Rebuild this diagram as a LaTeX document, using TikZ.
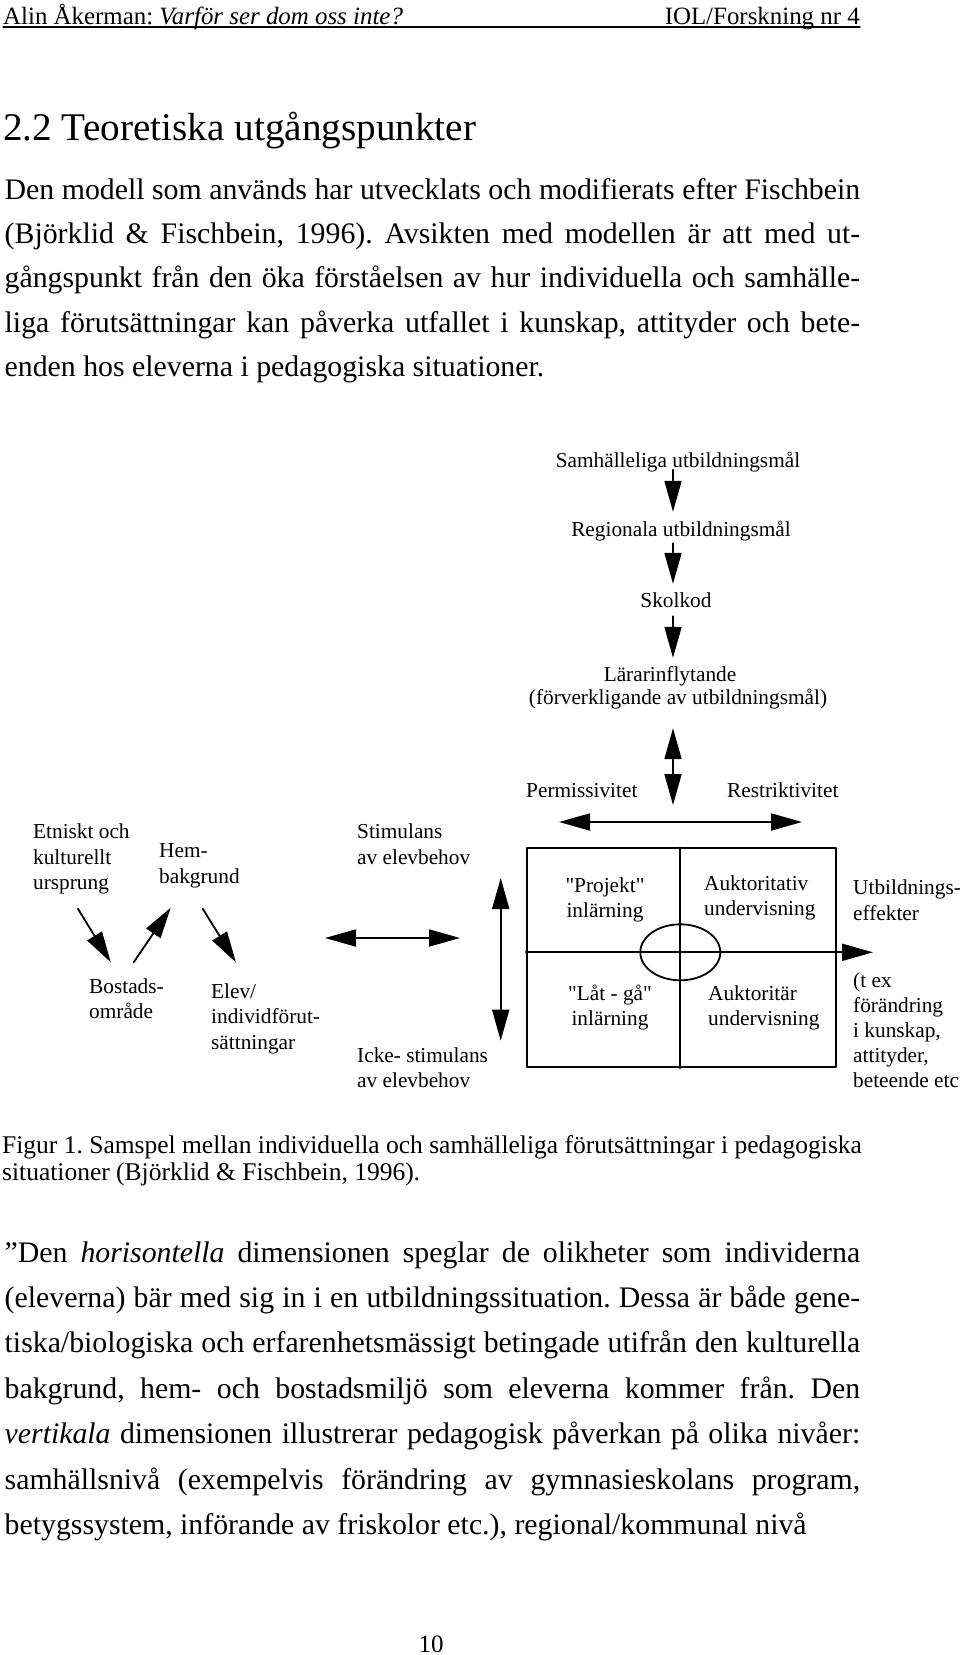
\documentclass[tikz,border=0pt]{standalone}
\usepackage{fontspec}
\setmainfont{Liberation Serif}
\newfontfamily\rakfont{Liberation Serif}
\usetikzlibrary{arrows.meta,shapes.geometric}
\newcommand{\brodfont}{\fontsize{29.8}{44.4}\selectfont}
\newcommand{\figfont}{\rakfont\fontsize{21.3}{25.5}\selectfont}
\frenchspacing

\begin{document}
\begin{tikzpicture}[x=1pt,y=-1pt,line cap=round,line join=round,
		>={Triangle[length=31pt,width=17pt]},
		txt/.style={inner sep=0pt,font=\figfont},
		mal/.style={txt,anchor=base,text height=14.5pt,text depth=4.5pt},
		pil/.style={->,line width=1.8pt},
		dpil/.style={<->,line width=1.8pt}]
		\useasboundingbox (0,0) rectangle (960,1655);
		% sidhuvud och rubrik
		\node[anchor=base west,inner sep=0pt,font=\fontsize{24.9}{28}\selectfont] (huvud) at (3,24) {Alin Åkerman: \textit{Varför ser dom oss inte?}};
		\node[anchor=base east,inner sep=0pt,font=\fontsize{24.9}{28}\selectfont] (serie) at (860,24) {IOL/Forskning nr 4};
		\draw[line width=1.3pt] (3,27) -- (860,27);
		\node[anchor=base west,inner sep=0pt,font=\fontsize{39.2}{44}\selectfont] (rubrik) at (3,140) {2.2 Teoretiska utgångspunkter};
		\node[anchor=base west,inner sep=0pt,text width=855.5pt,align=justify,font=\brodfont] (stycke) at (4.5,199) {Den modell som används har utvecklats och modifierats efter Fischbein\linebreak
			(Björklid \& Fischbein, 1996). Avsikten med modellen är att med ut-\linebreak
			gångspunkt från den öka förståelsen av hur individuella och samhälle-\linebreak
			liga förutsättningar kan påverka utfallet i kunskap, attityder och bete-\linebreak
			enden hos eleverna i pedagogiska situationer.};
		% vertikala dimensionen
		\coordinate (axel) at (673,0);
		\node[mal] (samh) at (678,467) {Samhälleliga utbildningsmål};
		\node[mal] (regio) at (681,536) {Regionala utbildningsmål};
		\node[mal] (skol) at (676,607) {Skolkod};
		\node[mal] (larar) at (670,681) {Lärarinflytande};
		\node[mal] (forv) at (678,704) {(förverkligande av utbildningsmål)};
		\draw[pil,shorten <=-2pt,shorten >=9.5pt] (samh.south -| axel) -- (regio.north -| axel);
		\draw[pil,shorten <=2.5pt,shorten >=8.5pt] (regio.south -| axel) -- (skol.north -| axel);
		\draw[pil,shorten <=4.5pt,shorten >=8.5pt] (skol.south -| axel) -- (larar.north -| axel);
		\node[txt,anchor=base west] (perm) at (526,797) {Permissivitet};
		\node[txt,anchor=base west] (restr) at (727,797) {Restriktivitet};
		\coordinate (pv) at (559,822);
		\coordinate (ph) at (802,822);
		\draw[dpil] (pv) -- (ph);
		\draw[dpil,shorten <=19.5pt,shorten >=17pt] (forv.south -| axel) -- (pv -| axel);
		% fyrfaltet
		\coordinate (mitt) at (680.3,952.3);
		\node[draw,line width=1.8pt,inner sep=0pt,minimum width=309.3pt,minimum height=219pt] (ruta) at (681.35,957.8) {};
		\draw[line width=1.8pt] (ruta.north -| mitt) -- (ruta.south -| mitt);
		\draw[line width=1.8pt] (ruta.west |- mitt) -- (ruta.east |- mitt);
		\node[draw,ellipse,line width=1.8pt,inner sep=0pt,minimum width=80pt,minimum height=56pt] (oval) at (mitt) {};
		\node[txt,align=center,anchor=base] (proj) at (605,917.5) {"Projekt"\\inlärning};
		\node[txt,align=left,anchor=base west] (aukt) at (704,915.5) {Auktoritativ\\undervisning};
		\node[txt,align=center,anchor=base] (latga) at (610,1025.5) {"Låt - gå"\\inlärning};
		\node[txt,align=left,anchor=base west] (auktar) at (708,1025.5) {Auktoritär\\undervisning};
		\coordinate (effpil) at (873,952.3);
		\draw[pil] (ruta.east |- mitt) -- (effpil);
		\node[txt,align=left,anchor=base west] (utb) at (853,920) {Utbildnings-\\effekter};
		\node[txt,align=left,anchor=base west,font=\rakfont\fontsize{21.3}{25}\selectfont] (tex) at (853,1087) {(t ex\\förändring\\i kunskap,\\attityder,\\beteende etc};
		\coordinate (vo) at (500.7,878);
		\coordinate (vn) at (500.7,1040.7);
		\draw[dpil] (vo) -- (vn);
		% horisontella dimensionen
		\node[txt,align=left,anchor=base west] (etn) at (33,889.5) {Etniskt och\\kulturellt\\ursprung};
		\node[txt,align=left,anchor=base west] (hem) at (159,883) {Hem-\\bakgrund};
		\node[txt,align=left,anchor=base west] (stim) at (357,864) {Stimulans\\av elevbehov};
		\node[txt,align=left,anchor=base west] (bost) at (89,1018.5) {Bostads-\\område};
		\node[txt,align=left,anchor=base west] (elev) at (211,1049) {Elev/\\individförut-\\sättningar};
		\node[txt,align=left,anchor=base west] (icke) at (357,1087.5) {Icke- stimulans\\av elevbehov};
		\draw[pil] ([shift={(-3.5pt,-14.4pt)}]etn.south) -- ([shift={(-15.7pt,15.7pt)}]bost.north);
		\draw[pil] ([shift={(7.2pt,15.7pt)}]bost.north) -- ([shift={(-28.7pt,-19.9pt)}]hem.south);
		\draw[pil] ([shift={(3.3pt,-20.9pt)}]hem.south) -- ([shift={(-29.7pt,20.7pt)}]elev.north);
		\coordinate (hv) at (325,938);
		\coordinate (hh) at (460,938);
		\draw[dpil] (hv) -- (hh);
		% figurtext och brodtext
		\node[anchor=base west,inner sep=0pt,align=left,font=\fontsize{25.5}{26.7}\selectfont] (figtext) at (2,1180) {Figur 1. Samspel mellan individuella och samhälleliga förutsättningar i pedagogiska\\situationer (Björklid \& Fischbein, 1996).};
		\node[anchor=base west,inner sep=0pt,text width=855.5pt,align=justify,font=\fontsize{29.8}{45.4}\selectfont] (citat) at (4.5,1262) {\parfillskip=0pt ”Den \textit{horisontella} dimensionen speglar de olikheter som individerna\linebreak
			(eleverna) bär med sig in i en utbildningssituation. Dessa är både gene-\linebreak
			tiska/biologiska och erfarenhetsmässigt betingade utifrån den kulturella\linebreak
			bakgrund, hem- och bostadsmiljö som eleverna kommer från. Den\linebreak
			\textit{vertikala} dimensionen illustrerar pedagogisk påverkan på olika nivåer:\linebreak
			samhällsnivå (exempelvis förändring av gymnasieskolans program,\linebreak
			betygssystem, införande av friskolor etc.), regional/kommunal nivå};
		\node[anchor=base,inner sep=0pt,font=\fontsize{25}{30}\selectfont] (sida) at (431,1652) {10};
\end{tikzpicture}
\end{document}
